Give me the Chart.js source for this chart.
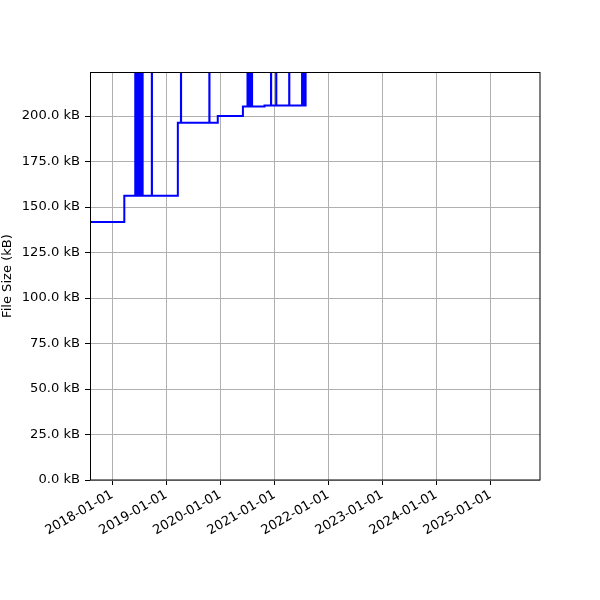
<!DOCTYPE html>
<html>
<head>
<meta charset="utf-8">
<script src="https://cdn.jsdelivr.net/npm/chart.js@4/dist/chart.umd.min.js"></script>
<style>
html,body{margin:0;padding:0;background:#fff;}
#wrap{width:600px;height:600px;}
</style>
</head>
<body>
<div id="wrap"><canvas id="c" width="600" height="600"></canvas></div>
<script>
// ---- data ----
const changeDates = [
  '2017-08-03','2018-03-23',
  '2018-06-05','2018-06-06',
  '2018-06-19','2018-06-20','2018-06-25','2018-06-26','2018-07-01','2018-07-02',
  '2018-07-07','2018-07-08','2018-07-13','2018-07-14','2018-07-19','2018-07-20',
  '2018-07-24','2018-07-25',
  '2018-09-25','2018-09-26',
  '2019-03-20',
  '2019-04-10','2019-04-11',
  '2019-10-19','2019-10-20',
  '2019-12-15',
  '2020-06-02',
  '2020-07-03','2020-07-04','2020-07-09','2020-07-10','2020-07-15','2020-07-16',
  '2020-07-21','2020-07-22','2020-07-27','2020-07-28','2020-08-02','2020-08-03',
  '2020-10-26',
  '2020-12-09','2020-12-10',
  '2021-01-13','2021-01-14',
  '2021-04-11','2021-04-12',
  '2021-07-07','2021-07-08','2021-07-13','2021-07-14','2021-07-19','2021-07-20',
  '2021-07-25','2021-07-26',
  '2021-07-31',
  '2023-05-18'
];
const fileSizesKB = [
  141.8, 156.2,
  450, 156.2,
  450, 156.2, 450, 156.2, 450, 156.2,
  450, 156.2, 450, 156.2, 450, 156.2,
  450, 156.2,
  450, 156.2,
  196.3,
  450, 196.3,
  450, 196.3,
  200.0,
  205.3,
  450, 205.3, 450, 205.3, 450, 205.3,
  450, 205.3, 450, 205.3, 450, 205.3,
  205.8,
  450, 205.8,
  450, 205.8,
  450, 205.8,
  450, 205.8, 450, 205.8, 450, 205.8,
  450, 205.8,
  224.2,
  224.2
];
const xTickDates = ['2018-01-01','2019-01-01','2020-01-01','2021-01-01','2022-01-01','2023-01-01','2024-01-01','2025-01-01'];
const yTickValues = [0,25,50,75,100,125,150,175,200];
const xRange = ['2017-08-03','2025-12-02'];
const yRange = [0, 224.2];

// ---- build ----
const toMs = s => Date.parse(s);
const points = changeDates.map((d,i)=>({x: toMs(d), y: fileSizesKB[i]}));
const pad2 = n => String(n).padStart(2,'0');
const fmtDate = ms => { const d = new Date(ms); return d.getUTCFullYear()+'-'+pad2(d.getUTCMonth()+1)+'-'+pad2(d.getUTCDate()); };

const FONT = {family: '"DejaVu Sans", sans-serif', size: 13.1};

const framePlugin = {
  id: 'frame',
  afterDatasetsDraw(chart){
    const {ctx, chartArea:a} = chart;
    ctx.save();
    ctx.strokeStyle = '#000';
    ctx.lineWidth = 1;
    ctx.strokeRect(Math.round(a.left)+0.5, Math.round(a.top)+0.5, Math.round(a.right-a.left)-1+0.5, Math.round(a.bottom-a.top)-0.5);
    ctx.restore();
  }
};

new Chart(document.getElementById('c'), {
  type: 'line',
  data: {
    datasets: [{
      data: points,
      borderColor: '#0000ff',
      backgroundColor: '#0000ff',
      borderWidth: 2,
      pointRadius: 0,
      stepped: 'before',
      fill: false,
      clip: 0
    }]
  },
  options: {
    responsive: false,
    animation: false,
    devicePixelRatio: 1,
    layout: {padding: {top: 72, right: 60, left: 0, bottom: 0}},
    plugins: {legend: {display: false}, tooltip: {enabled: false}},
    scales: {
      x: {
        type: 'linear',
        min: toMs(xRange[0]),
        max: toMs(xRange[1]),
        afterBuildTicks: s => { s.ticks = xTickDates.map(d => ({value: toMs(d)})); },
        afterFit: s => { s.height = 120; },
        ticks: {
          callback: v => fmtDate(v),
          minRotation: 30, maxRotation: 30,
          autoSkip: false,
          color: '#000', font: FONT, padding: 2
        },
        grid: {color: '#b0b0b0', lineWidth: 1, drawTicks: true, tickLength: 5, tickColor: '#000', tickWidth: 1},
        border: {display: false}
      },
      y: {
        type: 'linear',
        min: yRange[0],
        max: yRange[1],
        afterBuildTicks: s => { s.ticks = yTickValues.map(v => ({value: v})); },
        afterFit: s => { s.width = 90; },
        ticks: {
          callback: v => v.toFixed(1) + ' kB',
          color: '#000', font: FONT, padding: 5
        },
        title: {display: true, text: 'File Size (kB)', color: '#000', font: FONT, padding: {top: 0, bottom: 0}},
        grid: {color: '#b0b0b0', lineWidth: 1, drawTicks: true, tickLength: 5, tickColor: '#000', tickWidth: 1},
        border: {display: false}
      }
    }
  },
  plugins: [framePlugin]
});
</script>
</body>
</html>
